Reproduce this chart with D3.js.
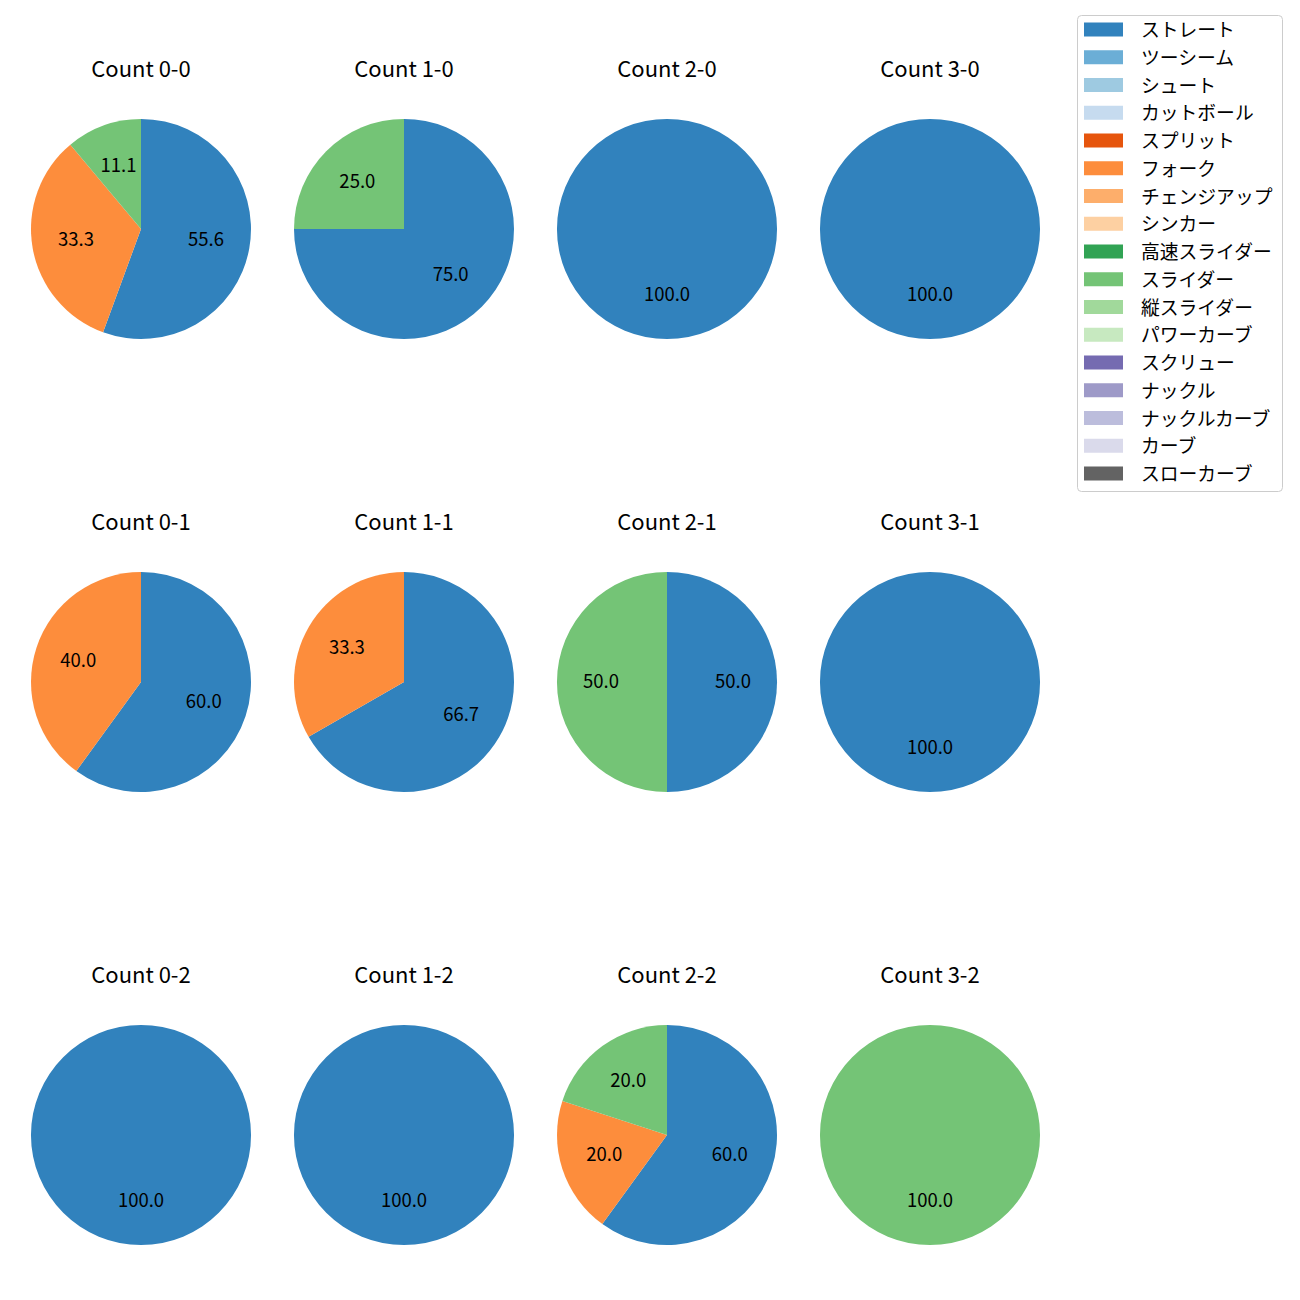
<!DOCTYPE html>
<html><head><meta charset="utf-8">
<script src="https://cdn.jsdelivr.net/npm/d3@7"></script>
<style>body{margin:0;background:#fff}svg{font-family:"Noto Sans CJK JP","Noto Sans",sans-serif}</style>
</head><body><svg id="c" width="1300" height="1300"></svg>
<script>
const pitchTypes = ["ストレート","ツーシーム","シュート","カットボール","スプリット","フォーク","チェンジアップ","シンカー","高速スライダー","スライダー","縦スライダー","パワーカーブ","スクリュー","ナックル","ナックルカーブ","カーブ","スローカーブ"];
const colors = ["#3182bd","#6baed6","#9ecae1","#c6dbef","#e6550d","#fd8d3c","#fdae6b","#fdd0a2","#31a354","#74c476","#a1d99b","#c7e9c0","#756bb1","#9e9ac8","#bcbddc","#dadaeb","#636363"];
const countTitles = ["Count 0-0","Count 1-0","Count 2-0","Count 3-0","Count 0-1","Count 1-1","Count 2-1","Count 3-1","Count 0-2","Count 1-2","Count 2-2","Count 3-2"];
// percentages per count: [pitch type, value]
const countData = [
  [["ストレート",55.6],["フォーク",33.3],["スライダー",11.1]],
  [["ストレート",75.0],["スライダー",25.0]],
  [["ストレート",100.0]],
  [["ストレート",100.0]],
  [["ストレート",60.0],["フォーク",40.0]],
  [["ストレート",66.7],["フォーク",33.3]],
  [["ストレート",50.0],["スライダー",50.0]],
  [["ストレート",100.0]],
  [["ストレート",100.0]],
  [["ストレート",100.0]],
  [["ストレート",60.0],["フォーク",20.0],["スライダー",20.0]],
  [["スライダー",100.0]]
];

const svg = d3.select("#c");
const color = d3.scaleOrdinal().domain(pitchTypes).range(colors);
const colX = d3.scalePoint().domain([0,1,2,3]).range([141,930]);
const rowY = d3.scalePoint().domain([0,1,2]).range([229,1135]);
const R = 110;
const pie = d3.pie().sort(null).value(d=>d[1]);
const arc = d3.arc().innerRadius(0).outerRadius(R);
const labelArc = d3.arc().innerRadius(R*0.6).outerRadius(R*0.6);

countData.forEach((data,i)=>{
  const cx = colX(i%4), cy = rowY(Math.floor(i/4));
  const g = svg.append("g").attr("transform",`translate(${cx},${cy})`);
  const arcs = pie(data);
  g.selectAll("path").data(arcs).join("path")
    .attr("d",arc).attr("fill",d=>color(d.data[0]));
  g.selectAll("text.l").data(arcs).join("text").attr("class","l")
    .attr("x",d=>labelArc.centroid(d)[0]).attr("y",d=>labelArc.centroid(d)[1]-2.5)
    .attr("text-anchor","middle").attr("dominant-baseline","central")
    .attr("font-size",18.5).attr("fill","#000")
    .text(d=>d.data[1].toFixed(1));
  svg.append("text").attr("x",cx).attr("y",cy-162)
    .attr("text-anchor","middle").attr("dominant-baseline","central")
    .attr("font-size",22).attr("fill","#000").text(countTitles[i]);
});

// legend
const lg = svg.append("g");
lg.append("rect").attr("x",1077.5).attr("y",15.5).attr("width",205).attr("height",476)
  .attr("rx",4).attr("fill","#fff").attr("stroke","#cccccc");
const ly = d3.scalePoint().domain(pitchTypes).range([29.5,473.5]);
pitchTypes.forEach(p=>{
  lg.append("rect").attr("x",1084).attr("y",ly(p)-7).attr("width",39).attr("height",14).attr("fill",color(p));
  lg.append("text").attr("x",1141).attr("y",ly(p)-1).attr("dominant-baseline","central")
    .attr("font-size",18.8).attr("fill","#000").text(p);
});
</script></body></html>
